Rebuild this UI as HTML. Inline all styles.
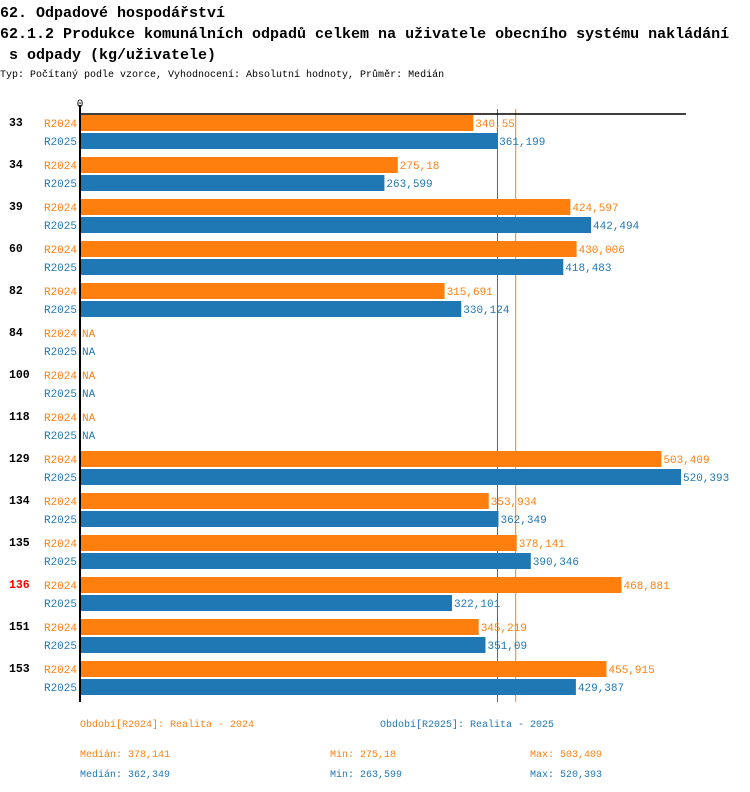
<!DOCTYPE html>
<html><head><meta charset="utf-8">
<style>
body{margin:0;background:#fff;width:750px;height:792px;overflow:hidden}
svg{display:block;font-family:"Liberation Mono",monospace}
</style></head>
<body>
<svg id="chart" width="750" height="792" viewBox="0 0 750 792">
<text x="0" y="17" font-size="15" font-weight="bold">62. Odpadové hospodářství</text>
<text x="0" y="38" font-size="15" font-weight="bold">62.1.2 Produkce komunálních odpadů celkem na uživatele obecního systému nakládání</text>
<text x="9" y="59" font-size="15" font-weight="bold">s odpady (kg/uživatele)</text>
<text x="0" y="77" font-size="10">Typ: Počítaný podle vzorce, Vyhodnocení: Absolutní hodnoty, Průměr: Medián</text>
<g id="plot"></g>
<text x="80" y="727" font-size="10" fill="#ff7f0e">Období[R2024]: Realita - 2024</text>
<text x="380" y="727" font-size="10" fill="#1f77b4">Období[R2025]: Realita - 2025</text>
<text x="80" y="757" font-size="10" fill="#ff7f0e">Medián: 378,141</text>
<text x="330" y="757" font-size="10" fill="#ff7f0e">Min: 275,18</text>
<text x="530" y="757" font-size="10" fill="#ff7f0e">Max: 503,409</text>
<text x="80" y="777" font-size="10" fill="#1f77b4">Medián: 362,349</text>
<text x="330" y="777" font-size="10" fill="#1f77b4">Min: 263,599</text>
<text x="530" y="777" font-size="10" fill="#1f77b4">Max: 520,393</text>
</svg>
<script>
const categories=["33","34","39","60","82","84","100","118","129","134","135","136","151","153"];
const r2024=[340.55,275.18,424.597,430.006,315.691,null,null,null,503.409,353.934,378.141,468.881,345.219,455.915];
const r2025=[361.199,263.599,442.494,418.483,330.124,null,null,null,520.393,362.349,390.346,322.101,351.09,429.387];
const medians=[378.141,362.349];
const highlighted=["136"];
const NS="http://www.w3.org/2000/svg";
const g=document.getElementById('plot');
const x0=80,scale=601/520.393;
function xs(v){return x0+v*scale;}
function ys(i){return 114+i*42;}
function mk(t,a){const e=document.createElementNS(NS,t);for(const k in a)e.setAttribute(k,a[k]);g.appendChild(e);return e;}
function fmt(v){return String(v).replace('.',',');}
const colors=["#ff7f0e","#1f77b4"];
medians.forEach((m,j)=>{
  const l=mk('line',{x1:xs(m)-1,x2:xs(m)-1,y1:109,y2:702,stroke:colors[j],'stroke-width':1});
  
  
});
categories.forEach((c,i)=>{
  const y=ys(i);
  const lab=mk('text',{x:9,y:y+12,'font-size':11.5,'font-weight':'bold',fill:highlighted.includes(c)?'#ff0000':'#000'});
  lab.textContent=c;
  
  
  [r2024,r2025].forEach((ser,j)=>{
    const by=y+1+j*18;
    const sl=mk('text',{x:77,y:by+12,'font-size':11,fill:colors[j],'text-anchor':'end'});
    sl.textContent=j?'R2025':'R2024';
    
    
    const v=ser[i];
    let end=x0;
    if(v!=null){
      const r=mk('rect',{x:x0,y:by,width:xs(v)-x0,height:16,fill:colors[j]});
      
      
      end=xs(v);
    }
    const vt=mk('text',{x:end+2,y:by+12,'font-size':11,fill:colors[j]});
    vt.textContent=v==null?'NA':fmt(v);
    
    
  });
});
const ax=mk('line',{x1:80,x2:80,y1:105,y2:702,stroke:'#000','stroke-width':2});


const tx=mk('line',{x1:80,x2:686,y1:114,y2:114,stroke:'#000','stroke-width':1.5});


const z=mk('text',{x:80,y:107,'font-size':11,'text-anchor':'middle'});
z.textContent='0';


</script>
</body></html>
